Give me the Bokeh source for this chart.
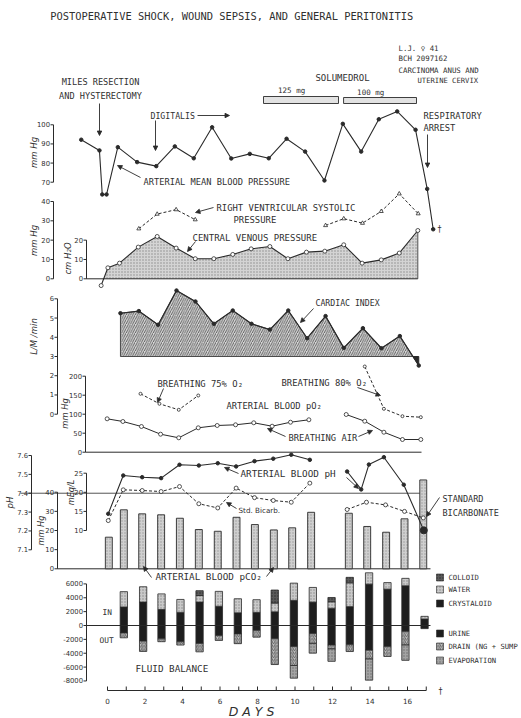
import numpy as np
from bokeh.plotting import figure
from bokeh.models import Range1d, Arrow, NormalHead
from bokeh.core.properties import value
from bokeh.embed import file_html
from bokeh.resources import INLINE

# ---------------- data ----------------
bp_day = [-1.40, -0.43, -0.28, -0.05, 0.55, 1.58, 2.60, 3.59, 4.60, 5.58, 6.60, 7.59,
          8.60, 9.55, 10.54, 11.57, 12.55, 13.53, 14.47, 15.45, 16.43, 17.05, 17.37]
bp = [92.2, 86.6, 63.6, 63.6, 88.3, 80.5, 78.4, 88.7, 82.5, 98.7, 82.4, 84.8,
      82.5, 92.7, 86.0, 70.9, 100.5, 86.0, 102.9, 107.0, 97.4, 66.5, 45.4]

rv_day1 = [1.67, 2.65, 3.66, 4.68]
rv1 = [25.9, 33.5, 35.8, 30.6]
rv_day2 = [11.63, 12.60, 13.60, 14.60, 15.56, 16.57]
rv2 = [27.6, 31.1, 28.8, 34.9, 44.0, 33.7]

cvp_day = [-0.34, 0.02, 0.64, 1.64, 2.65, 3.66, 4.68, 5.67, 6.68, 7.66, 8.66, 9.62,
           10.61, 11.59, 12.60, 13.58, 14.60, 15.56, 16.55]
cvp = [-3.5, 5.7, 8.1, 16.4, 21.9, 15.9, 10.4, 10.4, 12.6, 15.5, 16.7, 10.4,
       13.8, 14.3, 17.6, 8.1, 9.8, 13.3, 25.0]

ci_day = [0.69, 1.67, 2.70, 3.68, 4.69, 5.67, 6.68, 7.68, 8.66, 9.64, 10.65, 11.63,
          12.60, 13.62, 14.61, 15.59, 16.60]
ci = [5.25, 5.36, 4.65, 6.43, 5.86, 4.70, 5.39, 4.70, 4.40, 5.39, 3.95, 5.10,
      3.45, 4.47, 3.43, 4.06, 2.53]

air_day1 = [-0.02, 0.82, 1.81, 2.83, 3.80, 4.84, 5.85, 6.83, 7.80, 8.78, 9.76, 10.74]
air1 = [87.9, 80.8, 67.6, 47.4, 37.9, 64.2, 70.3, 72.1, 77.4, 68.4, 78.9, 85.3]
air_day2 = [12.73, 13.72, 14.74, 15.73, 16.71]
air2 = [99.2, 81.6, 52.6, 33.4, 33.4]
o75_day = [1.76, 2.77, 3.80, 4.84]
o75 = [153.7, 127.4, 111.6, 149.2]
o80_day = [13.72, 14.74, 15.73, 16.71]
o80 = [225.5, 114.2, 94.7, 92.1]

ph_day1 = [0.04, 0.84, 1.85, 2.86, 3.84, 4.87, 5.88, 6.86, 7.84, 8.84, 9.80, 10.79]
ph1 = [7.291, 7.494, 7.485, 7.480, 7.551, 7.547, 7.559, 7.542, 7.570, 7.583, 7.604, 7.577]
ph_day2 = [12.78, 13.53, 13.94, 14.74, 15.80, 16.87]
ph2 = [7.515, 7.420, 7.552, 7.591, 7.445, 7.203]

hco3_day1 = [0.04, 0.84, 1.85, 2.86, 3.84, 4.87, 5.88, 6.86, 7.84, 8.84, 9.80, 10.79]
hco3_1 = [12.6, 20.65, 20.47, 20.2, 21.5, 17.0, 15.9, 21.1, 18.6, 17.85, 17.4, 22.4]
hco3_day2 = [12.78, 13.81, 14.83, 15.84, 16.84]
hco3_2 = [15.5, 17.4, 16.7, 15.0, 13.3]

pco2_day = [0.07, 0.87, 1.85, 2.86, 3.86, 4.87, 5.88, 6.88, 7.86, 8.87, 9.85, 10.86,
            12.87, 13.85, 14.86, 15.84, 16.84]
pco2 = [16.5, 30.8, 28.7, 28.2, 26.4, 20.5, 19.6, 26.9, 23.1, 20.3, 21.4, 29.5,
        29.0, 22.1, 19.1, 26.1, 46.4]

fluid_day = [0.87, 1.90, 2.88, 3.89, 4.91, 5.94, 6.95, 7.95, 8.92, 9.94, 10.95, 11.95,
             12.92, 13.95, 14.93, 15.89, 16.91]
crystaloid = [2675, 3380, 2310, 1890, 3380, 2775, 1830, 1890, 1970, 3620, 3380, 2490, 2720, 5970, 5250, 5730, 940]
water = [2210, 2210, 2250, 1870, 940, 2150, 2030, 1830, 1270, 2490, 2110, 930, 3435, 1630, 940, 1070, 380]
colloid = [0, 0, 0, 0, 700, 0, 0, 0, 1875, 0, 0, 620, 790, 0, 0, 0, 0]
urine = [1070, 2250, 1915, 2340, 2580, 1450, 1210, 700, 1885, 3040, 1170, 2815, 2770, 3560, 3055, 845, 450]
drain = [704, 1490, 420, 480, 1220, 700, 1410, 985, 3745, 2730, 1410, 560, 985, 1270, 1410, 1970, 0]
evaporation = [0, 0, 0, 0, 0, 0, 0, 0, 0, 1830, 1410, 1790, 0, 3055, 0, 2210, 0]

solu_start = [8.32, 12.59]
solu_end = [12.32, 16.48]
solu_dose = ["125 mg", "100 mg"]

day_ticks = list(range(0, 18))
day_labels = ["0", "2", "4", "6", "8", "10", "12", "14", "16"]
bp_ticks = [70, 80, 90, 100]
rv_ticks = [0, 10, 20, 30, 40]
cvp_ticks = [0, 10, 20]
ci_ticks = [0, 1, 2, 3, 4, 5, 6]
po2_ticks = [0, 50, 100, 150, 200]
ph_ticks = [7.1, 7.2, 7.3, 7.4, 7.5, 7.6]
pco2_ticks = [0, 10, 20, 30, 40]
meq_ticks = [10, 15, 20, 25]
fluid_ticks = [-8000, -6000, -4000, -2000, 0, 2000, 4000, 6000]

# ---------------- layout ----------------
W, H, OFF = 521, 718, 0
DAY0, PPD = 107.0, 18.75
INK = "#2a2a2a"
TXT = "#303030"
MONO = value("DejaVu Sans Mono")
SANS = value("DejaVu Sans")


def d(xref):
    return (xref - DAY0) / PPD


def cal(va, ya, vb, yb):
    pa, pb = ya - OFF, yb - OFF
    k = (vb - va) / (pb - pa)
    return Range1d(va + (H - pa) * k, va - pa * k)


p = figure(width=W, height=H, x_range=Range1d(d(OFF), d(OFF + W)),
           y_range=Range1d(OFF + H, OFF), x_axis_type=None, y_axis_type=None,
           output_backend="svg", toolbar_location=None, min_border=0)
p.extra_x_ranges = {"px": Range1d(OFF, OFF + W)}
p.extra_y_ranges = {
    "bp": cal(70, 181.7, 100, 124.3),
    "rv": cal(0, 278.3, 40, 201.0),
    "ci": cal(3, 356.0, 6, 298.3),
    "po2": cal(0, 451.7, 200, 375.7),
    "ph": cal(7.6, 455.0, 7.1, 549.3),
    "pco2": cal(0, 568.3, 40, 491.7),
    "meq": cal(25, 472.7, 10, 530.0),
    "fluid": cal(0, 625.0, 6000, 583.4),
}
p.grid.visible = False
p.outline_line_color = None
p.background_fill_color = "white"
p.border_fill_color = "white"


def txt(x, y, s, size=8.8, align="left", style="normal", angle=0.0, font=MONO):
    p.text(x=[x], y=[y], text=[s], x_range_name="px", text_font=font,
           text_font_size=f"{size}px", text_align=align, text_baseline="middle",
           text_font_style=style, angle=angle, text_color=TXT)


def arrow(x0, y0, x1, y1, size=4.5):
    p.add_layout(Arrow(end=NormalHead(size=size, fill_color=INK, line_color=INK, line_width=0.8),
                       x_start=x0, y_start=y0, x_end=x1, y_end=y1, x_range_name="px",
                       line_color=INK, line_width=0.9))


def vaxis(name, xref, ticks, size=6.8):
    n = len(ticks)
    lo, hi = min(ticks), max(ticks)
    p.segment(x0=[xref], y0=[lo], x1=[xref], y1=[hi], x_range_name="px",
              y_range_name=name, line_color=INK, line_width=1)
    p.segment(x0=[xref - 3] * n, y0=ticks, x1=[xref] * n, y1=ticks, x_range_name="px",
              y_range_name=name, line_color=INK, line_width=1)
    labs = [("%g" % t) for t in ticks]
    p.text(x=[xref - 3.5] * n, y=ticks, text=labs, x_range_name="px", y_range_name=name,
           text_font=SANS, text_font_size=f"{size}px", text_align="right",
           text_baseline="middle", text_color=TXT)


# ---------------- title and header ----------------
txt(250, 15, "POSTOPERATIVE  SHOCK,  WOUND  SEPSIS,  AND  GENERAL  PERITONITIS", 10.4, "center")
txt(398, 48, "L.J.  \u2640  41", 7.4)
txt(398, 58, "BCH  2097162", 7.4)
txt(398, 70, "CARCINOMA  ANUS  AND", 7.4)
txt(417, 80, "UTERINE  CERVIX", 7.2)
txt(342, 77, "SOLUMEDROL", 9, "center")

# Solumedrol bars
p.quad(left=solu_start, right=solu_end, bottom=[103, 103], top=[96, 97],
       fill_color="#e2e2e2", line_color=INK, line_width=0.9)
p.text(x=[(a + b) / 2 - 0.5 for a, b in zip(solu_start, solu_end)], y=[90, 92], text=solu_dose,
       text_font=MONO, text_font_size="7.5px", text_align="center", text_baseline="middle",
       text_color=TXT)

txt(100, 81, "MILES RESECTION", 8.6, "center")
txt(100, 95, "AND HYSTERECTOMY", 8.6, "center")
arrow(99, 103, 99, 135)
txt(150, 115, "DIGITALIS", 8.2)
arrow(197, 115, 229, 115)
arrow(155, 120, 155, 150)
txt(423, 115, "RESPIRATORY", 8.8)
txt(423, 127, "ARREST", 8.8)
arrow(427, 134, 427, 167)

# ---------------- arterial mean blood pressure ----------------
vaxis("bp", 53, bp_ticks)
txt(33, 152, "mm Hg", 8.5, "center", "italic", np.pi / 2, SANS)
p.line(bp_day, bp, y_range_name="bp", line_color=INK, line_width=1.1)
p.scatter(bp_day, bp, y_range_name="bp", size=3.5, color=INK)
txt(143, 181, "ARTERIAL  MEAN  BLOOD  PRESSURE", 8.7)
arrow(140, 177, 117, 165)
txt(437, 229, "\u2020", 8, font=SANS)

# ---------------- RV systolic / CVP ----------------
vaxis("rv", 53, rv_ticks)
vaxis("rv", 86, cvp_ticks)
txt(33, 240, "mm Hg", 8.5, "center", "italic", np.pi / 2, SANS)
txt(67, 258, "cm H\u2082O", 8.5, "center", "italic", np.pi / 2, SANS)
cd, cv = np.array(cvp_day), np.array(cvp)
t0 = -cv[0] / (cv[1] - cv[0])
xc = cd[0] + t0 * (cd[1] - cd[0])
p.patch([xc] + list(cd[1:]) + [cd[-1]], [0] + list(cv[1:]) + [0], y_range_name="rv",
        fill_color="#d4d4d4", hatch_pattern="dot", hatch_color="#8c8c8c", hatch_scale=3,
        line_color=None)
p.segment(x0=[d(86)], y0=[0], x1=[cd[-1]], y1=[0], y_range_name="rv", line_color=INK, line_width=1)
p.segment(x0=[cd[-1]], y0=[0], x1=[cd[-1]], y1=[cv[-1]], y_range_name="rv", line_color=INK, line_width=0.8)
p.line(cvp_day, cvp, y_range_name="rv", line_color=INK, line_width=1.1)
p.scatter(cvp_day, cvp, y_range_name="rv", size=4, fill_color="white", line_color=INK, line_width=0.8)
for dd, vv in ((rv_day1, rv1), (rv_day2, rv2)):
    p.line(dd, vv, y_range_name="rv", line_color=INK, line_width=1, line_dash="3 2")
    p.scatter(dd, vv, y_range_name="rv", marker="triangle", size=4, fill_color="white",
              line_color=INK, line_width=0.8)
txt(216, 207, "RIGHT VENTRICULAR SYSTOLIC", 8.9)
txt(233, 219, "PRESSURE", 8.9)
arrow(213, 207, 195, 212)
txt(192, 237, "CENTRAL  VENOUS  PRESSURE", 9)
arrow(195, 241, 187, 251)

# ---------------- cardiac index ----------------
vaxis("ci", 57, ci_ticks)
txt(33, 336, "L/M /min", 8.5, "center", "italic", np.pi / 2, SANS)
cid, cia = np.array(ci_day), np.array(ci)
t1 = (cia[-2] - 3) / (cia[-2] - cia[-1])
xc2 = cid[-2] + t1 * (cid[-1] - cid[-2])
p.patch([cid[0]] + list(cid[:-1]) + [xc2], [3] + list(cia[:-1]) + [3], y_range_name="ci",
        fill_color="#d8d8d8", hatch_pattern="right_diagonal_line", hatch_color="#4a4a4a",
        hatch_scale=4.5, hatch_weight=0.85, line_color=INK, line_width=0.8)
p.patch([xc2, cid[-1], cid[-1]], [3, cia[-1], 3], y_range_name="ci", fill_color=INK, line_color=INK)
p.line(ci_day, ci, y_range_name="ci", line_color=INK, line_width=1.2)
p.scatter(ci_day, ci, y_range_name="ci", size=3.5, color=INK)
txt(315, 302, "CARDIAC INDEX", 8.2)
arrow(313, 308, 300, 322)

# ---------------- arterial pO2 ----------------
vaxis("po2", 85, po2_ticks)
txt(64, 413, "mm Hg", 8.3, "center", "italic", np.pi / 2, SANS)
p.segment(x0=[d(85)], y0=[0], x1=[d(421)], y1=[0], y_range_name="po2", line_color=INK, line_width=1)
for dd, vv in ((air_day1, air1), (air_day2, air2)):
    p.line(dd, vv, y_range_name="po2", line_color=INK, line_width=1)
    p.scatter(dd, vv, y_range_name="po2", size=4, fill_color="white", line_color=INK, line_width=0.8)
for dd, vv in ((o75_day, o75), (o80_day, o80)):
    p.line(dd, vv, y_range_name="po2", line_color=INK, line_width=1, line_dash="3 2")
    p.scatter(dd, vv, y_range_name="po2", size=3, fill_color="white", line_color=INK, line_width=0.8)
txt(157, 383, "BREATHING 75% O\u2082", 8.9)
arrow(163, 388, 157, 402)
txt(281, 382, "BREATHING 80% O\u2082", 8.9)
arrow(357, 387, 380, 395)
txt(226, 405, "ARTERIAL BLOOD pO\u2082", 8.8)
txt(288, 437, "BREATHING AIR", 8.8)
arrow(285, 436, 267, 428)
arrow(358, 436, 372, 430)

# ---------------- pH, pCO2, bicarbonate ----------------
vaxis("ph", 31, ph_ticks)
vaxis("pco2", 57, pco2_ticks)
vaxis("meq", 86, meq_ticks)
txt(9, 502, "pH", 8.5, "center", "italic", np.pi / 2, SANS)
txt(40, 530, "mm Hg", 8.2, "center", "italic", np.pi / 2, SANS)
txt(70, 492, "mEq/L", 8.2, "center", "italic", np.pi / 2, SANS)
p.segment(x0=[d(20)], y0=[7.4], x1=[d(426)], y1=[7.4], y_range_name="ph", line_color=INK, line_width=0.8)
p.segment(x0=[d(57)], y0=[0], x1=[d(430)], y1=[0], y_range_name="pco2", line_color=INK, line_width=1)
p.vbar(x=pco2_day, top=pco2, bottom=0, width=0.37, y_range_name="pco2",
       fill_color="#cfcfcf", hatch_pattern="dot", hatch_color="#9a9a9a", hatch_scale=3,
       line_color=INK, line_width=0.9)
for dd, vv in ((hco3_day1, hco3_1), (hco3_day2, hco3_2)):
    p.line(dd, vv, y_range_name="meq", line_color=INK, line_width=1, line_dash="3 2")
    p.scatter(dd, vv, y_range_name="meq", size=4, fill_color="white", line_color=INK, line_width=0.8)
for dd, vv in ((ph_day1, ph1), (ph_day2, ph2)):
    p.line(dd, vv, y_range_name="ph", line_color=INK, line_width=1.1)
    p.scatter(dd, vv, y_range_name="ph", size=3.5, color=INK)
p.scatter([ph_day2[-1]], [ph2[-1]], y_range_name="ph", size=7, color=INK)
txt(240, 473, "ARTERIAL BLOOD pH", 9.3)
arrow(238, 473, 224, 467)
arrow(346, 477, 358, 488)
txt(238, 510, "Std. Bicarb.", 7.2, font=SANS)
arrow(236, 508, 226, 502)
txt(442, 498, "STANDARD", 8.5)
txt(442, 512, "BICARBONATE", 8.5)
arrow(439, 497, 426, 516)
txt(155, 576, "ARTERIAL BLOOD pCO\u2082", 9.3)
arrow(151, 577, 143, 566)
arrow(266, 576, 273, 567)

# ---------------- fluid balance ----------------
vaxis("fluid", 86, fluid_ticks, 6.8)
p.segment(x0=[d(86)], y0=[0], x1=[d(430)], y1=[0], y_range_name="fluid", line_color=INK, line_width=1)
cr, wa, co = np.array(crystaloid), np.array(water), np.array(colloid)
ur, dr, ev = np.array(urine), np.array(drain), np.array(evaporation)
BW = 0.39
styles = {
    "crystaloid": dict(fill_color="#1e1e1e"),
    "water": dict(fill_color="#c9c9c9", hatch_pattern="dot", hatch_color="#8a8a8a", hatch_scale=3),
    "colloid": dict(fill_color="#5a5a5a", hatch_pattern="dot", hatch_color="#2a2a2a", hatch_scale=3),
    "urine": dict(fill_color="#1e1e1e"),
    "drain": dict(fill_color="#c0c0c0", hatch_pattern="right_diagonal_line", hatch_color="#4a4a4a",
                  hatch_scale=3.5, hatch_weight=0.8),
    "evaporation": dict(fill_color="#a3a3a3", hatch_pattern="dot", hatch_color="#6a6a6a", hatch_scale=3),
}
segs = [
    ("crystaloid", np.zeros(17), cr),
    ("water", cr, cr + wa),
    ("colloid", cr + wa, cr + wa + co),
    ("urine", -ur, np.zeros(17)),
    ("drain", -ur - dr, -ur),
    ("evaporation", -ur - dr - ev, -ur - dr),
]
for name, b, t in segs:
    m = (t - b) > 0
    p.vbar(x=list(np.array(fluid_day)[m]), bottom=list(b[m]), top=list(t[m]), width=BW,
           y_range_name="fluid", line_color=INK, line_width=0.8, **styles[name])
txt(102, 612, "IN", 7.8)
txt(99, 640, "OUT", 7.8)
txt(135, 668, "FLUID  BALANCE", 9.3)

# legend
leg = [("colloid", "COLLOID", 577), ("water", "WATER", 589), ("crystaloid", "CRYSTALOID", 603),
       ("urine", "URINE", 633), ("drain", "DRAIN (NG + SUMP", 646), ("evaporation", "EVAPORATION", 660)]
for key, lab, yy in leg:
    p.quad(left=[436], right=[443], top=[yy - 3.5], bottom=[yy + 3.5], x_range_name="px",
           line_color=INK, line_width=0.6, **styles[key])
    txt(448, yy, lab, 7.2)

# ---------------- days axis ----------------
p.segment(x0=[0], y0=[690], x1=[17], y1=[690], line_color=INK, line_width=1)
p.segment(x0=day_ticks, y0=[690] * len(day_ticks), x1=day_ticks, y1=[686] * len(day_ticks),
          line_color=INK, line_width=1)
p.text(x=[float(s) for s in day_labels], y=[700] * len(day_labels), text=day_labels,
       text_font=SANS, text_font_size="7.2px", text_align="center", text_baseline="middle",
       text_color=TXT)
txt(438, 691, "\u2020", 8, font=SANS)
txt(251, 711, "D A Y S", 12.5, "center", "italic", font=SANS)

open("out.html", "w").write(file_html(p, INLINE))
